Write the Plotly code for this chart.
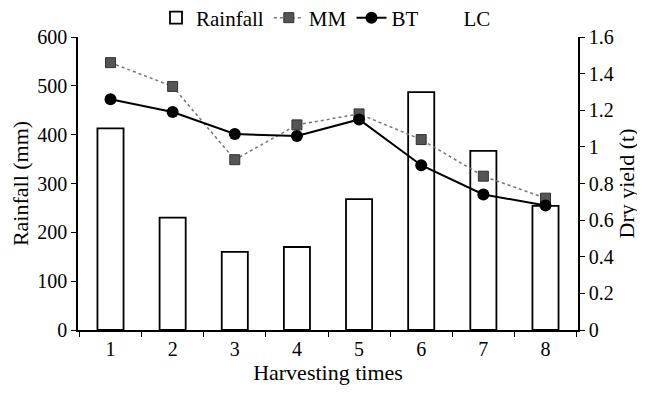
import plotly.graph_objects as go

categories = ["1", "2", "3", "4", "5", "6", "7", "8"]
rainfall = [413, 230, 160, 170, 268, 487, 367, 254]
mm_yield = [1.46, 1.33, 0.93, 1.12, 1.18, 1.04, 0.84, 0.72]
bt_yield = [1.26, 1.19, 1.07, 1.06, 1.15, 0.90, 0.74, 0.68]

FONT = "Liberation Serif, Times New Roman, serif"

fig = go.Figure()
fig.add_trace(go.Bar(
    x=categories, y=rainfall, name="Rainfall", width=0.42,
    marker=dict(color="white", line=dict(color="black", width=1.8)),
    yaxis="y"))
fig.add_trace(go.Scatter(
    x=categories, y=mm_yield, name="MM", mode="lines+markers",
    line=dict(color="#777777", width=1.5, dash="dot"),
    marker=dict(symbol="square", size=10, color="#555555",
                line=dict(color="#333333", width=1)),
    yaxis="y2"))
fig.add_trace(go.Scatter(
    x=categories, y=bt_yield, name="BT", mode="lines+markers",
    line=dict(color="black", width=2),
    marker=dict(symbol="circle", size=12, color="black"),
    yaxis="y2"))
fig.add_trace(go.Scatter(
    x=[None], y=[None], name="LC", mode="lines",
    line=dict(color="rgba(255,255,255,0)", width=1),
    yaxis="y2"))

fig.update_layout(
    width=637, height=385,
    margin=dict(l=70, r=67, t=29, b=63, autoexpand=False),
    paper_bgcolor="white", plot_bgcolor="white",
    font=dict(family=FONT, size=20, color="black"),
    showlegend=True,
    legend=dict(orientation="h", x=0.156, y=0.974, yref="container",
                xanchor="left", yanchor="middle",
                font=dict(family=FONT, size=21), bgcolor="rgba(0,0,0,0)",
                itemwidth=30, tracegroupgap=0),
    xaxis=dict(type="category", showline=True, linecolor="black", linewidth=1.5,
               ticks="outside", tickson="boundaries", ticklen=5, tickcolor="black",
               showgrid=False, zeroline=False, automargin=False,
               tickfont=dict(family=FONT, size=20),
               title=dict(text="Harvesting times", standoff=5,
                          font=dict(family=FONT, size=22))),
    yaxis=dict(range=[0, 600], dtick=100, showline=True, linecolor="black", linewidth=1.5,
               ticks="outside", ticklen=5, tickcolor="black", showgrid=False,
               zeroline=False, automargin=False,
               title=dict(text="Rainfall (mm)", standoff=8,
                          font=dict(family=FONT, size=22))),
    yaxis2=dict(range=[0, 1.6], dtick=0.2, overlaying="y", side="right",
                showline=True, linecolor="black", linewidth=1.5,
                ticks="outside", ticklen=5, tickcolor="black", showgrid=False,
                zeroline=False, tickformat="~g", automargin=False,
                title=dict(text="Dry yield (t)", standoff=6,
                           font=dict(family=FONT, size=22))),
)

fig.write_html("out.html")
